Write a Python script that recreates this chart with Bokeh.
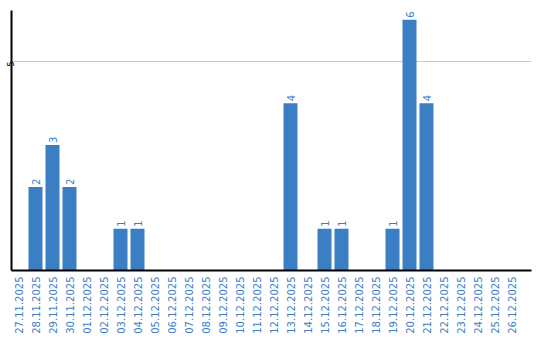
import math
from bokeh.plotting import figure
from bokeh.models import ColumnDataSource, FixedTicker, Range1d
from bokeh.core.properties import value
from bokeh.embed import file_html
from bokeh.resources import INLINE

dates = ["27.11.2025", "28.11.2025", "29.11.2025", "30.11.2025", "01.12.2025",
         "02.12.2025", "03.12.2025", "04.12.2025", "05.12.2025", "06.12.2025",
         "07.12.2025", "08.12.2025", "09.12.2025", "10.12.2025", "11.12.2025",
         "12.12.2025", "13.12.2025", "14.12.2025", "15.12.2025", "16.12.2025",
         "17.12.2025", "18.12.2025", "19.12.2025", "20.12.2025", "21.12.2025",
         "22.12.2025", "23.12.2025", "24.12.2025", "25.12.2025", "26.12.2025"]
counts = [0, 2, 3, 2, 0, 0, 1, 1, 0, 0, 0, 0, 0, 0, 0, 0, 4, 0, 1, 1, 0, 0, 1, 6, 4, 0, 0, 0, 0, 0]

BAR = "#3b7ec4"
bw = 14 / 17.0
idx = list(range(len(dates)))
centers = [i + bw / 2 for i in idx]

src = ColumnDataSource(dict(left=idx, right=[i + bw for i in idx], top=counts))
lsrc = ColumnDataSource(dict(xc=[c for c, v in zip(centers, counts) if v > 0],
                             top=[v for v in counts if v > 0],
                             lab=[str(v) for v in counts if v > 0]))

p = figure(width=540, height=340, output_backend="svg", toolbar_location=None,
           x_range=Range1d(0, 520 / 17.0), y_range=Range1d(0, 6.22),
           min_border_left=11, min_border_right=9, min_border_top=10, min_border_bottom=70)
p.outline_line_color = None
p.background_fill_color = "white"

p.quad(left="left", right="right", bottom=0, top="top", source=src,
       fill_color=BAR, line_color=None)
p.text(x="xc", y="top", text="lab", source=lsrc, angle=math.pi / 2,
       text_align="left", text_baseline="middle", y_offset=-2,
       text_font=value("DejaVu Sans"), text_font_size="10px", text_color=BAR)

p.xgrid.grid_line_color = None
p.ygrid.grid_line_color = "#c8c8c8"
p.ygrid.ticker = FixedTicker(ticks=[5])

p.xaxis.ticker = FixedTicker(ticks=centers)
p.xaxis.major_label_overrides = {c: d for c, d in zip(centers, dates)}
p.xaxis.major_label_orientation = math.pi / 2
p.xaxis.major_label_text_color = BAR
p.xaxis.major_label_text_font = "DejaVu Sans"
p.xaxis.major_label_text_font_size = "10px"
p.xaxis.major_tick_out = 0
p.xaxis.major_tick_in = 0
p.xaxis.minor_tick_out = 0
p.xaxis.minor_tick_in = 0
p.xaxis.major_label_standoff = 6
p.xaxis.axis_line_width = 2
p.xaxis.axis_line_color = "black"

p.yaxis.ticker = FixedTicker(ticks=[5])
p.yaxis.major_label_orientation = math.pi / 2
p.yaxis.major_label_text_font = "DejaVu Sans"
p.yaxis.major_label_text_font_size = "8px"
p.yaxis.major_label_text_color = "black"
p.yaxis.major_tick_out = 0
p.yaxis.major_tick_in = 0
p.yaxis.minor_tick_out = 0
p.yaxis.minor_tick_in = 0
p.yaxis.major_label_standoff = 1
p.yaxis.axis_line_width = 2
p.yaxis.axis_line_color = "black"

open("out.html", "w").write(file_html(p, INLINE))
